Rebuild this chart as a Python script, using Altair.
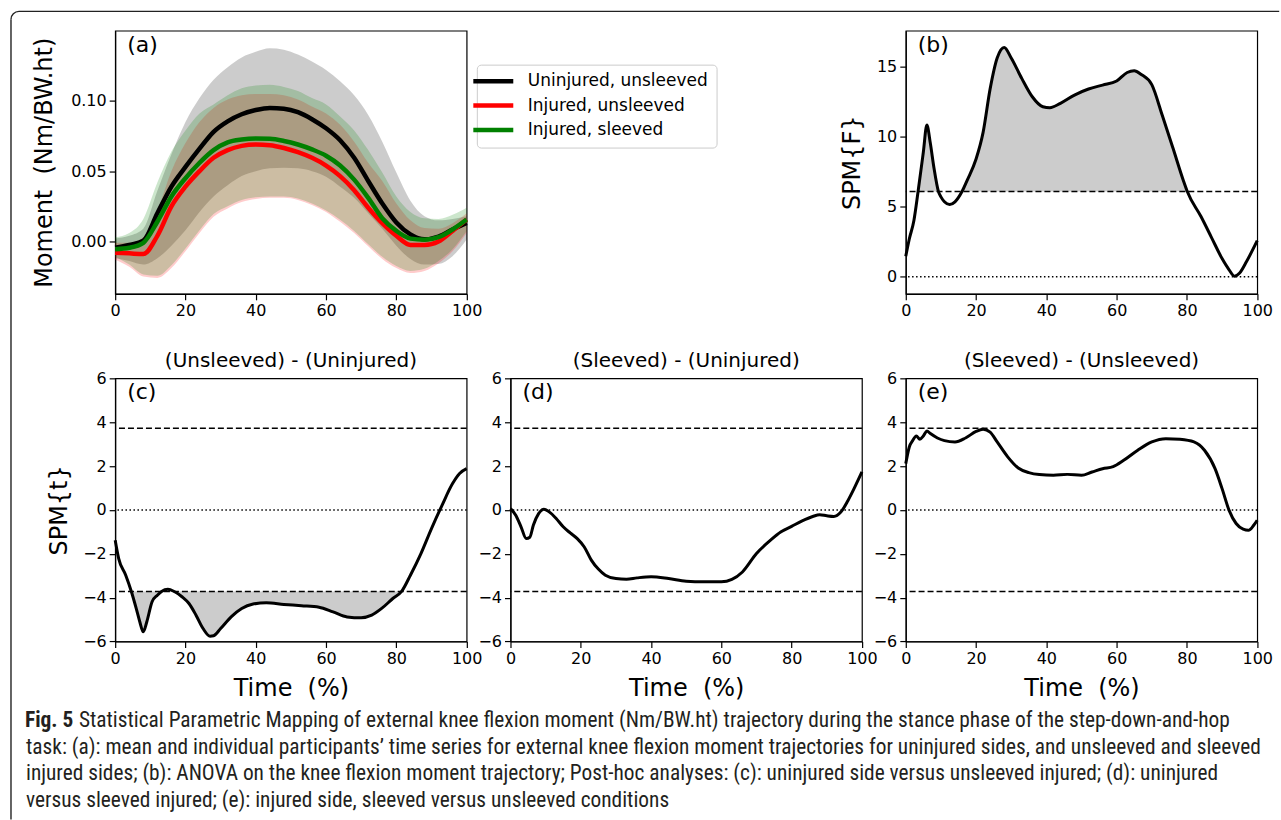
import altair as alt
import pandas as pd

FONT = "DejaVu Sans"
CAP_FONT = "Roboto Condensed, Liberation Sans Narrow, DejaVu Sans Condensed, Liberation Sans, sans-serif"

# ---------------- panel (a): mean +/- SD moment curves ----------------
T_A = [0, 4, 8, 12, 16, 20, 24, 28, 32, 36, 40, 44, 48, 52, 56, 60, 64, 68, 72, 76, 80, 84, 88, 92, 96, 100]
UNINJ_MEAN = [-0.0045, -0.0025, 0.0005, 0.020, 0.039, 0.053, 0.066, 0.078, 0.0855, 0.0905, 0.0935, 0.095, 0.0945,
              0.092, 0.087, 0.0805, 0.072, 0.0595, 0.043, 0.027, 0.0135, 0.005, 0.0015, 0.0035, 0.0085, 0.0132]
UNINJ_HI = [0.002, 0.004, 0.009, 0.036, 0.062, 0.085, 0.102, 0.115, 0.124, 0.131, 0.135, 0.1375, 0.1365,
            0.133, 0.128, 0.122, 0.114, 0.104, 0.090, 0.071, 0.049, 0.029, 0.018, 0.015, 0.016, 0.018]
UNINJ_LO = [-0.012, -0.014, -0.0165, -0.012, -0.003, 0.008, 0.021, 0.032, 0.040, 0.0465, 0.050, 0.052, 0.0524,
            0.052, 0.050, 0.046, 0.039, 0.031, 0.020, 0.009, -0.003, -0.0125, -0.0165, -0.016, -0.0105, 0.0014]
UNSL_MEAN = [-0.008, -0.0085, -0.009, 0.004, 0.025, 0.039, 0.050, 0.0595, 0.065, 0.068, 0.069, 0.0685, 0.0665,
             0.0635, 0.0595, 0.054, 0.0465, 0.0365, 0.024, 0.013, 0.004, -0.0025, -0.0025, 0.0, 0.0075, 0.0156]
UNSL_HI = [-0.001, -0.001, 0.003, 0.022, 0.050, 0.070, 0.085, 0.095, 0.101, 0.104, 0.105, 0.105, 0.104,
           0.101, 0.096, 0.091, 0.083, 0.071, 0.056, 0.043, 0.027, 0.015, 0.0095, 0.009, 0.013, 0.020]
UNSL_LO = [-0.013, -0.018, -0.025, -0.026, -0.019, -0.007, 0.006, 0.0175, 0.0235, 0.028, 0.0302, 0.031, 0.031,
           0.0295, 0.026, 0.021, 0.014, 0.006, -0.0035, -0.0125, -0.019, -0.0225, -0.021, -0.0155, -0.007, 0.006]
SL_MEAN = [-0.0055, -0.0045, -0.001, 0.014, 0.032, 0.045, 0.056, 0.065, 0.0705, 0.0725, 0.0732, 0.073, 0.0715,
           0.069, 0.0655, 0.061, 0.054, 0.044, 0.031, 0.0165, 0.0075, 0.002, 0.0012, 0.003, 0.0085, 0.0156]
SL_HI = [0.003, 0.006, 0.016, 0.042, 0.064, 0.079, 0.091, 0.0975, 0.104, 0.109, 0.111, 0.1115, 0.110,
         0.107, 0.102, 0.0975, 0.089, 0.079, 0.065, 0.049, 0.032, 0.021, 0.0165, 0.016, 0.019, 0.024]
SL_LO = [-0.011, -0.0165, -0.0235, -0.0245, -0.017, -0.005, 0.008, 0.0195, 0.025, 0.0295, 0.0315, 0.032, 0.032,
         0.0305, 0.027, 0.022, 0.0155, 0.0075, -0.002, -0.011, -0.0175, -0.021, -0.0195, -0.014, -0.0055, 0.0073]
SERIES = ["Uninjured, unsleeved", "Injured, unsleeved", "Injured, sleeved"]
SERIES_COLORS = ["#000000", "#ff0000", "#008000"]

# ---------------- panel (b): SPM{F} ----------------
T_B = [0, 1, 2.3, 3.5, 5, 6, 7, 8, 9.3, 10, 11, 12.5, 14, 16, 17.5, 20, 22, 24, 26, 28, 30, 33, 36, 39, 41, 44,
       48, 52, 56, 60, 63, 65, 67, 70, 73, 76, 79, 80.1, 84, 87, 90, 92, 93.5, 95, 97, 100]
F_B = [1.47, 2.7, 4.0, 6.08, 8.9, 10.83, 9.5, 7.8, 6.08, 5.7, 5.35, 5.15, 5.35, 6.08, 6.9, 8.4, 10.3, 13.4, 15.6,
       16.35, 15.6, 14.15, 12.84, 12.13, 12.06, 12.37, 12.96, 13.39, 13.67, 13.96, 14.57, 14.69, 14.43, 13.7,
       11.5, 9.2, 6.85, 6.08, 4.3, 2.8, 1.3, 0.5, 0.05, 0.28, 1.11, 2.58]
THR_F = 6.08

# ---------------- panels (c)-(e): SPM{t} ----------------
T_C = [0, 1, 3, 4.6, 6, 7, 8, 9, 10.5, 12, 13.2, 15, 16.8, 19, 21, 23, 25, 27, 28, 30, 33, 36, 39, 43, 48, 53,
       58, 62, 66, 70, 73, 76, 79, 81.5, 84, 87, 90, 93, 96, 98, 100]
T_VAL_C = [-1.38, -2.22, -2.98, -3.72, -4.5, -5.1, -5.56, -5.1, -4.19, -3.89, -3.72, -3.62, -3.72, -3.96, -4.27,
           -4.8, -5.41, -5.76, -5.74, -5.41, -4.88, -4.5, -4.3, -4.24, -4.31, -4.37, -4.44, -4.65, -4.88, -4.92,
           -4.8, -4.47, -4.04, -3.72, -2.98, -1.99, -0.85, 0.21, 1.2, 1.66, 1.88]
T_D = [0, 1.5, 3, 4.5, 5.5, 6.5, 8, 9.5, 11, 13, 15, 17, 19, 21, 23, 25, 27, 30, 33, 36, 40, 45, 50, 55, 60, 63,
       66, 70, 74, 77, 80, 83, 86, 88, 90, 92, 94, 96, 98, 100]
T_VAL_D = [0.06, -0.24, -0.77, -1.31, -1.25, -0.7, -0.17, 0.03, -0.09, -0.39, -0.77, -1.05, -1.31, -1.69, -2.29,
           -2.7, -2.98, -3.13, -3.16, -3.1, -3.05, -3.13, -3.25, -3.28, -3.28, -3.17, -2.83, -1.99, -1.38, -1.0,
           -0.75, -0.5, -0.3, -0.22, -0.27, -0.3, -0.1, 0.42, 1.05, 1.73]
T_E = [0, 1, 2, 3, 4, 5, 6, 7, 9, 11, 14, 17, 20, 22, 24, 26, 29, 32, 35, 38, 42, 46, 50, 53, 56, 59, 62, 66, 70,
       74, 78, 82, 85, 88, 90, 92, 94, 96, 97.5, 99, 100]
T_VAL_E = [2.11, 2.87, 3.17, 3.37, 3.22, 3.37, 3.6, 3.48, 3.28, 3.16, 3.1, 3.28, 3.58, 3.68, 3.55, 3.1, 2.42, 1.91,
           1.7, 1.61, 1.58, 1.62, 1.58, 1.73, 1.88, 1.97, 2.26, 2.72, 3.1, 3.25, 3.22, 3.1, 2.72, 1.88, 0.97, -0.02,
           -0.62, -0.88, -0.93, -0.7, -0.47]
THR_T = 3.72

X_TICKS = [0, 20, 40, 60, 80, 100]
T_TICKS = [-6, -4, -2, 0, 2, 4, 6]

CAPTION = [
    "Statistical Parametric Mapping of external knee flexion moment (Nm/BW.ht) trajectory during the stance phase of the step-down-and-hop",
    "task: (a): mean and individual participants\u2019 time series for external knee flexion moment trajectories for uninjured sides, and unsleeved and sleeved",
    "injured sides; (b): ANOVA on the knee flexion moment trajectory; Post-hoc analyses: (c): uninjured side versus unsleeved injured; (d): uninjured",
    "versus sleeved injured; (e): injured side, sleeved versus unsleeved conditions",
]

# ---------------- layout constants ----------------
W, H = 351.8, 263.4
OX, OY = 114.3, 29.3  # page position of panel (a)'s plot origin
XS = alt.Scale(domain=[0, 100], nice=False, zero=False)
YA = alt.Scale(domain=[-0.0373, 0.150], nice=False, zero=False)
YB = alt.Scale(domain=[-1.21, 17.55], nice=False, zero=False)
YT = alt.Scale(domain=[-6, 6], nice=False, zero=False)
CAP_SIZE = 21.4


def xaxis(title=None):
    kw = dict(values=X_TICKS, format="d", grid=False, tickSize=6, tickWidth=1.2, tickColor="black",
              domainColor="black", domainWidth=1.2, labelFontSize=16, labelFont=FONT, labelColor="black",
              labelPadding=3, labelFlush=False)
    if title:
        kw.update(title=title, titleFontSize=24, titleFont=FONT, titleFontWeight="normal", titleColor="black",
                  titlePadding=10)
    else:
        kw.update(title=None)
    return alt.Axis(**kw)


def yaxis(values, fmt, title=None, tpad=8):
    kw = dict(values=values, format=fmt, grid=False, tickSize=6, tickWidth=1.2, tickColor="black",
              domainColor="black", domainWidth=1.2, labelFontSize=16, labelFont=FONT, labelColor="black",
              labelPadding=3, labelFlush=False)
    if title:
        kw.update(title=title, titleFontSize=24, titleFont=FONT, titleFontWeight="normal", titleColor="black",
                  titlePadding=tpad)
    else:
        kw.update(title=None)
    return alt.Axis(**kw)


def one(s):
    return pd.DataFrame({"s": [s]})


def panel_label(s):
    return alt.Chart(one(s)).mark_text(align="left", baseline="alphabetic", fontSize=22, font=FONT,
                                       color="black").encode(x=alt.value(12), y=alt.value(21), text="s:N")


def hline(val, dash, yscale, yax):
    return alt.Chart(pd.DataFrame({"v": [val]})).mark_rule(color="black", strokeWidth=1.5, strokeDash=dash).encode(
        y=alt.Y("v:Q", scale=yscale, axis=yax))


# ---------------- panel (a) ----------------
ax_a_y = yaxis([0, 0.05, 0.10], ".2f", "Moment\u00a0\u00a0(Nm/BW.ht)", 14)
ax_a_x = xaxis()


def band(lo, hi, color):
    df = pd.DataFrame({"t": T_A, "lo": lo, "hi": hi})
    return alt.Chart(df).mark_area(color=color, opacity=0.2, interpolate="monotone").encode(
        x=alt.X("t:Q", scale=XS, axis=ax_a_x), y=alt.Y("lo:Q", scale=YA, axis=ax_a_y), y2="hi:Q")


lines_df = pd.concat([
    pd.DataFrame({"t": T_A, "v": UNINJ_MEAN, "series": SERIES[0]}),
    pd.DataFrame({"t": T_A, "v": UNSL_MEAN, "series": SERIES[1]}),
    pd.DataFrame({"t": T_A, "v": SL_MEAN, "series": SERIES[2]}),
])
lines_a = alt.Chart(lines_df).mark_line(strokeWidth=4.5, interpolate="monotone").encode(
    x=alt.X("t:Q", scale=XS, axis=ax_a_x),
    y=alt.Y("v:Q", scale=YA, axis=ax_a_y),
    color=alt.Color("series:N", scale=alt.Scale(domain=SERIES, range=SERIES_COLORS),
                    legend=alt.Legend(title=None, orient="none", legendX=362, legendY=34,
                                      symbolType="M-4,0L4,0", symbolSize=100, symbolStrokeWidth=4.5,
                                      labelOffset=26, labelFontSize=17, labelFont=FONT, labelColor="black",
                                      rowPadding=5.5, padding=8, fillColor="white", strokeColor="#cccccc",
                                      cornerRadius=4, labelLimit=400)),
)

# frame and caption (annotation, in page pixels relative to panel (a) origin)
frame_top = alt.Chart(one("f")).mark_rule(color="#222222", strokeWidth=1.4).encode(
    x=alt.value(18 - OX), x2=alt.value(1279.5 - OX), y=alt.value(10 - OY))
frame_left = alt.Chart(one("f")).mark_rule(color="#222222", strokeWidth=1.4).encode(
    x=alt.value(10 - OX), y=alt.value(18 - OY), y2=alt.value(819 - OY))
frame_corner = alt.Chart(one("f")).mark_arc(color="#222222", radius=8.7, radius2=7.3, theta=4.712389,
                                            theta2=6.283185).encode(x=alt.value(18 - OX), y=alt.value(18 - OY))
cap_fig = alt.Chart(one("Fig. 5")).mark_text(align="left", baseline="middle", fontSize=CAP_SIZE, fontWeight="bold",
                                             font=CAP_FONT, color="#231f20").encode(
    x=alt.value(24 - OX), y=alt.value(720.5 - OY), text="s:N")
cap_lines = []
for i, (line, x0) in enumerate(zip(CAPTION, [78, 25, 25, 25])):
    cap_lines.append(alt.Chart(one(line)).mark_text(align="left", baseline="middle", fontSize=CAP_SIZE,
                                                     font=CAP_FONT, color="#231f20").encode(
        x=alt.value(x0 - OX), y=alt.value(720.5 + 26.5 * i - OY), text="s:N"))

panel_a = alt.layer(
    band(UNINJ_LO, UNINJ_HI, "#000000"),
    band(UNSL_LO, UNSL_HI, "#ff0000"),
    band(SL_LO, SL_HI, "#008000"),
    lines_a,
    panel_label("(a)"),
    frame_top, frame_left, frame_corner, cap_fig, *cap_lines,
).properties(width=W, height=H)

# empty cell between (a) and (b) (room for the legend)
blank = alt.Chart(one("x")).mark_point(opacity=0).encode(x=alt.value(0), y=alt.value(0)).properties(
    width=W, height=H, view=alt.ViewBackground(stroke="transparent"))

# ---------------- panel (b) ----------------
ax_b_y = yaxis([0, 5, 10, 15], "d", "SPM{F}", 12)
ax_b_x = xaxis()
df_b = pd.DataFrame({"t": T_B, "v": F_B})
shade_b = alt.Chart(df_b).transform_calculate(
    top=f"max(datum.v, {THR_F})", base=f"{THR_F}"
).mark_area(color="#cccccc", interpolate="monotone").encode(
    x=alt.X("t:Q", scale=XS, axis=ax_b_x), y=alt.Y("top:Q", scale=YB, axis=ax_b_y), y2="base:Q")
line_b = alt.Chart(df_b).mark_line(color="black", strokeWidth=3, interpolate="monotone").encode(
    x=alt.X("t:Q", scale=XS, axis=ax_b_x), y=alt.Y("v:Q", scale=YB, axis=ax_b_y))
panel_b = alt.layer(
    shade_b,
    hline(THR_F, [6, 3], YB, ax_b_y),
    hline(0, [1.5, 2.5], YB, ax_b_y),
    line_b,
    panel_label("(b)"),
).properties(width=W, height=H)


# ---------------- panels (c)-(e) ----------------
def t_panel(ts, vals, label, title, ytitle, shade_lower):
    ax_y = yaxis(T_TICKS, "d", ytitle, 11)
    ax_x = xaxis("Time\u00a0\u00a0(%)")
    df = pd.DataFrame({"t": ts, "v": vals})
    layers = []
    if shade_lower:
        layers.append(alt.Chart(df).transform_calculate(
            low=f"min(datum.v, {-THR_T})", base=f"{-THR_T}"
        ).mark_area(color="#cccccc", interpolate="monotone").encode(
            x=alt.X("t:Q", scale=XS, axis=ax_x), y=alt.Y("low:Q", scale=YT, axis=ax_y), y2="base:Q"))
    layers += [
        hline(THR_T, [6, 3], YT, ax_y),
        hline(-THR_T, [6, 3], YT, ax_y),
        hline(0, [1.5, 2.5], YT, ax_y),
        alt.Chart(df).mark_line(color="black", strokeWidth=3, interpolate="monotone").encode(
            x=alt.X("t:Q", scale=XS, axis=ax_x), y=alt.Y("v:Q", scale=YT, axis=ax_y)),
        panel_label(label),
    ]
    return alt.layer(*layers).properties(
        width=W, height=H,
        title=alt.TitleParams(title, fontSize=20, font=FONT, fontWeight="normal", color="black",
                              anchor="middle", baseline="alphabetic", offset=12, frame="group", dy=29))


panel_c = t_panel(T_C, T_VAL_C, "(c)", "(Unsleeved) - (Uninjured)", "SPM{t}", True)
panel_d = t_panel(T_D, T_VAL_D, "(d)", "(Sleeved) - (Uninjured)", None, False)
panel_e = t_panel(T_E, T_VAL_E, "(e)", "(Sleeved) - (Unsleeved)", None, False)

chart = alt.concat(
    panel_a, blank, panel_b, panel_c, panel_d, panel_e,
    columns=3, spacing={"row": 84, "column": 43.7}, bounds="flush",
).properties(
    padding={"left": 9.3, "top": 9.3, "right": 0, "bottom": 0}
).configure_view(stroke="black", strokeWidth=1.2)

chart.save("out.html", embed_options={"renderer": "svg", "actions": False})
